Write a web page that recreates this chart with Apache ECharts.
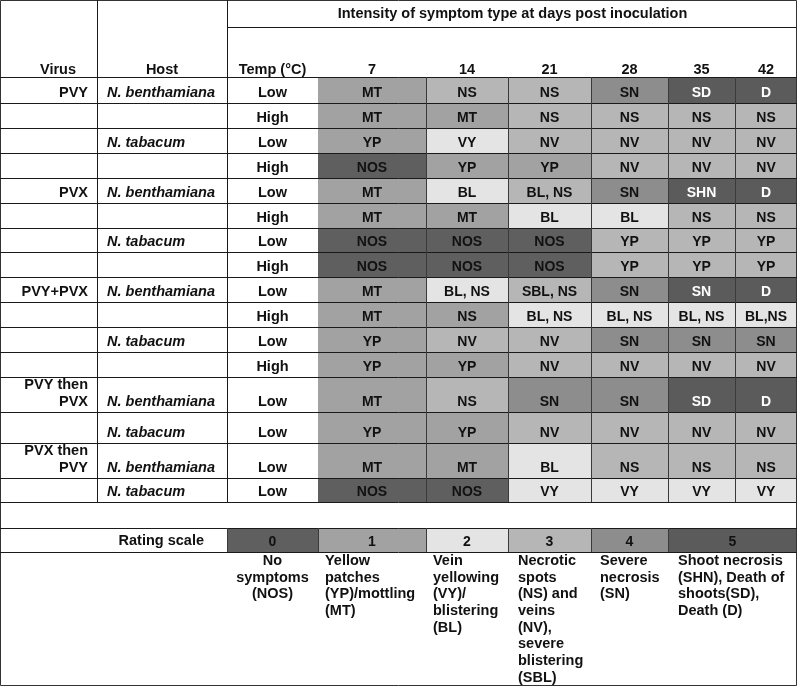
<!DOCTYPE html>
<html><head><meta charset="utf-8">
<script src="https://cdn.jsdelivr.net/npm/echarts@6/dist/echarts.min.js"></script>
<style>html,body{margin:0;padding:0;background:#fff}#c{width:798px;height:687px}</style>
</head><body><div id="c"></div>
<script>
// ---- data ----
const headerTitle = 'Intensity of symptom type at days post inoculation';
const columnHeaders = ['Virus', 'Host', 'Temp (°C)'];
const days = ['7', '14', '21', '28', '35', '42'];
const virusLabels = ['PVY', '', '', '', 'PVX', '', '', '', 'PVY+PVX', '', '', '', 'PVY then\nPVX', '', 'PVX then\nPVY', ''];
const hostLabels = ['N. benthamiana', '', 'N. tabacum', '', 'N. benthamiana', '', 'N. tabacum', '', 'N. benthamiana', '', 'N. tabacum', '', 'N. benthamiana', 'N. tabacum', 'N. benthamiana', 'N. tabacum'];
const tempLabels = ['Low', 'High', 'Low', 'High', 'Low', 'High', 'Low', 'High', 'Low', 'High', 'Low', 'High', 'Low', 'Low', 'Low', 'Low'];
const symptoms = [
  ['MT', 'NS', 'NS', 'SN', 'SD', 'D'],
  ['MT', 'MT', 'NS', 'NS', 'NS', 'NS'],
  ['YP', 'VY', 'NV', 'NV', 'NV', 'NV'],
  ['NOS', 'YP', 'YP', 'NV', 'NV', 'NV'],
  ['MT', 'BL', 'BL, NS', 'SN', 'SHN', 'D'],
  ['MT', 'MT', 'BL', 'BL', 'NS', 'NS'],
  ['NOS', 'NOS', 'NOS', 'YP', 'YP', 'YP'],
  ['NOS', 'NOS', 'NOS', 'YP', 'YP', 'YP'],
  ['MT', 'BL, NS', 'SBL, NS', 'SN', 'SN', 'D'],
  ['MT', 'NS', 'BL, NS', 'BL, NS', 'BL, NS', 'BL,NS'],
  ['YP', 'NV', 'NV', 'SN', 'SN', 'SN'],
  ['YP', 'YP', 'NV', 'NV', 'NV', 'NV'],
  ['MT', 'NS', 'SN', 'SN', 'SD', 'D'],
  ['YP', 'YP', 'NV', 'NV', 'NV', 'NV'],
  ['MT', 'MT', 'BL', 'NS', 'NS', 'NS'],
  ['NOS', 'NOS', 'VY', 'VY', 'VY', 'VY']
];
const ratings = [
  [1, 3, 3, 4, 5, 5],
  [1, 1, 3, 3, 3, 3],
  [1, 2, 3, 3, 3, 3],
  [0, 1, 1, 3, 3, 3],
  [1, 2, 3, 4, 5, 5],
  [1, 1, 2, 2, 3, 3],
  [0, 0, 0, 3, 3, 3],
  [0, 0, 0, 3, 3, 3],
  [1, 2, 3, 4, 5, 5],
  [1, 1, 2, 2, 2, 2],
  [1, 3, 3, 4, 4, 4],
  [1, 1, 3, 3, 3, 3],
  [1, 3, 4, 4, 5, 5],
  [1, 1, 3, 3, 3, 3],
  [1, 1, 2, 3, 3, 3],
  [0, 0, 2, 2, 2, 2]
];
const scaleTitle = 'Rating scale';
const scaleValues = [0, 1, 2, 3, 4, 5];
const scaleDescriptions = [
  'No\nsymptoms\n(NOS)',
  'Yellow\npatches\n(YP)/mottling\n(MT)',
  'Vein\nyellowing\n(VY)/\nblistering\n(BL)',
  'Necrotic\nspots\n(NS) and\nveins\n(NV),\nsevere\nblistering\n(SBL)',
  'Severe\nnecrosis\n(SN)',
  'Shoot necrosis\n(SHN), Death of\nshoots(SD),\nDeath (D)'
];

// ---- layout / style ----
const W = 798, H = 687;
const shadeColors = ['#5f5f5f', '#a2a2a2', '#e4e4e4', '#b6b6b6', '#8d8d8d', '#5b5b5b'];
const colEdges = [318, 426, 508, 591, 668, 735, 797];
const rowEdges = [77, 103, 128, 153, 178, 203, 228, 252, 277, 302, 327, 352, 377, 412, 443, 478, 502];
const scaleEdges = [227, 318, 426, 508, 591, 668, 797];
const scaleTop = 528, scaleBottom = 552;
const blankTop = 502;
const labelCols = [0, 97, 227, 318];
const FONT = 'bold 14.5px "Liberation Sans", Arial, sans-serif';
const IFONT = 'italic bold 14.5px "Liberation Sans", Arial, sans-serif';
const CFONT = 'bold 14px "Liberation Sans", Arial, sans-serif';

const cellData = [];
symptoms.forEach((row, r) => row.forEach((s, c) => cellData.push([c, r, ratings[r][c], s])));
const scaleData = scaleValues.map((v, i) => [i, v, scaleDescriptions[i]]);

const chart = echarts.init(document.getElementById('c'), null, {renderer: 'canvas'});

const g = [];
function hline(x1, x2, y, color) {
  g.push({type: 'line', shape: {x1: x1, y1: y + 0.5, x2: x2, y2: y + 0.5}, style: {stroke: color || '#1a1a1a', lineWidth: 1}, z: 10});
}
function vline(x, y1, y2, color) {
  g.push({type: 'line', shape: {x1: x + 0.5, y1: y1, x2: x + 0.5, y2: y2}, style: {stroke: color || '#1a1a1a', lineWidth: 1}, z: 10});
}
function txt(t, x, y, align, font, vAlign) {
  g.push({type: 'text', style: {text: t, x: x, y: y, textAlign: align, textVerticalAlign: vAlign || 'middle', font: font || FONT, fill: '#111', lineHeight: 16.7}, z: 20});
}

// outer border
g.push({type: 'rect', shape: {x: 0.5, y: 0.5, width: W - 2, height: H - 2}, style: {fill: 'none', stroke: '#333', lineWidth: 1}, z: 10});
// header lines
hline(labelCols[2], W - 1, 27);
hline(0, W - 1, rowEdges[0]);
vline(labelCols[1], 0, blankTop);
vline(labelCols[2], 0, blankTop);
// row lines
rowEdges.slice(1).forEach(y => hline(0, W - 1, y));
hline(0, W - 1, scaleTop);
hline(0, W - 1, scaleBottom);
// day separators
colEdges.slice(1, -1).forEach(x => vline(x, rowEdges[0], blankTop, '#3a3a3a'));
scaleEdges.slice(0, -1).forEach(x => vline(x, scaleTop, scaleBottom, '#3a3a3a'));

// header texts
txt(headerTitle, (labelCols[2] + W) / 2, 14, 'center');
txt(columnHeaders[0], 58, 70, 'center');
txt(columnHeaders[1], (labelCols[1] + labelCols[2]) / 2, 70, 'center');
txt(columnHeaders[2], (labelCols[2] + labelCols[3]) / 2, 70, 'center');
days.forEach((d, i) => txt(d, (colEdges[i] + colEdges[i + 1]) / 2, 70, 'center'));

// row label texts
for (let r = 0; r < tempLabels.length; r++) {
  const yb = rowEdges[r + 1] - 10;
  const v = virusLabels[r];
  if (v) {
    const lines = v.split('\n');
    lines.forEach((ln, k) => txt(ln, 88, yb - (lines.length - 1 - k) * 16.7, 'right'));
  }
  if (hostLabels[r]) txt(hostLabels[r], 107, yb, 'left', IFONT);
  txt(tempLabels[r], (labelCols[2] + labelCols[3]) / 2, yb, 'center');
}
txt(scaleTitle, 204, (scaleTop + scaleBottom) / 2 + 1, 'right');

chart.setOption({
  animation: false,
  grid: {left: 0, top: 0, width: W, height: H},
  xAxis: {type: 'value', min: 0, max: W, show: false},
  yAxis: {type: 'value', min: 0, max: H, inverse: true, show: false},
  graphic: g,
  series: [
    {
      type: 'custom',
      data: cellData,
      z: 2,
      renderItem: function (params, api) {
        const c = api.value(0), r = api.value(1), v = api.value(2);
        const label = cellData[params.dataIndex][3];
        const p0 = api.coord([colEdges[c], rowEdges[r]]);
        const p1 = api.coord([colEdges[c + 1], rowEdges[r + 1]]);
        return {
          type: 'group',
          children: [
            {type: 'rect', shape: {x: p0[0], y: p0[1], width: p1[0] - p0[0], height: p1[1] - p0[1]}, style: {fill: shadeColors[v]}},
            {type: 'text', style: {text: label, x: (p0[0] + p1[0]) / 2, y: p1[1] - 10, textAlign: 'center', textVerticalAlign: 'middle', font: CFONT, fill: v === 5 ? '#fff' : '#111'}}
          ]
        };
      }
    },
    {
      type: 'custom',
      data: scaleData,
      z: 2,
      renderItem: function (params, api) {
        const i = api.value(0), v = api.value(1);
        const desc = scaleData[params.dataIndex][2];
        const p0 = api.coord([scaleEdges[i], scaleTop]);
        const p1 = api.coord([scaleEdges[i + 1], scaleBottom]);
        const first = i === 0;
        return {
          type: 'group',
          children: [
            {type: 'rect', shape: {x: p0[0], y: p0[1], width: p1[0] - p0[0], height: p1[1] - p0[1]}, style: {fill: shadeColors[v]}},
            {type: 'text', style: {text: String(v), x: (p0[0] + p1[0]) / 2, y: p1[1] - 10, textAlign: 'center', textVerticalAlign: 'middle', font: CFONT, fill: '#111'}},
            {type: 'text', style: {text: desc, x: first ? (p0[0] + p1[0]) / 2 : p0[0] + [0, 7, 7, 10, 9, 10][i], y: p1[1] + 0.5, textAlign: first ? 'center' : 'left', textVerticalAlign: 'top', font: FONT, fill: '#111', lineHeight: 16.7}}
          ]
        };
      }
    }
  ]
});
</script>
</body></html>
